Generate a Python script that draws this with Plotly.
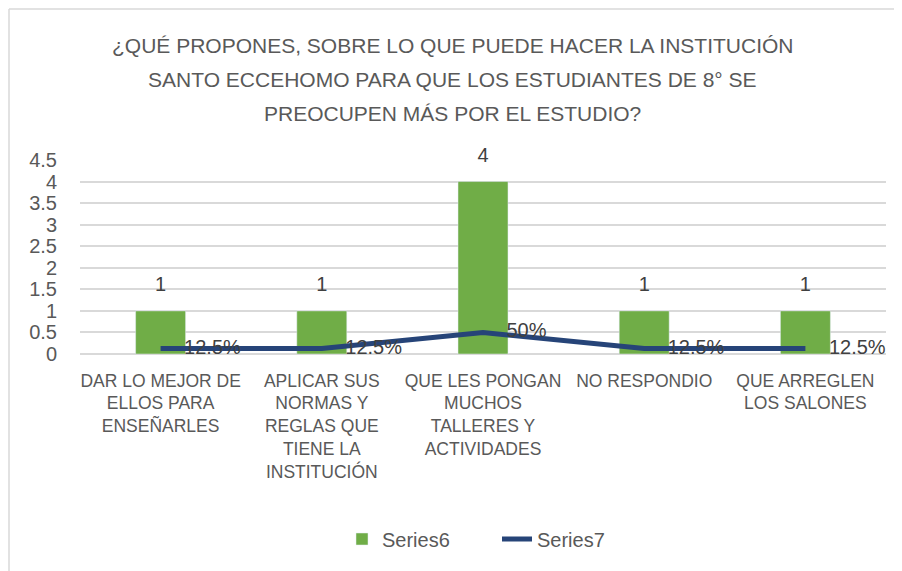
import plotly.graph_objects as go

categories = [
    "DAR LO MEJOR DE<br>ELLOS PARA<br>ENSEÑARLES",
    "APLICAR SUS<br>NORMAS Y<br>REGLAS QUE<br>TIENE LA<br>INSTITUCIÓN",
    "QUE LES PONGAN<br>MUCHOS<br>TALLERES Y<br>ACTIVIDADES",
    "NO RESPONDIO",
    "QUE ARREGLEN<br>LOS SALONES",
]
series6 = [1, 1, 4, 1, 1]
series7 = [0.125, 0.125, 0.5, 0.125, 0.125]
series7_labels = ["12.5%", "12.5%", "50%", "12.5%", "12.5%"]
y_ticks = [0, 0.5, 1, 1.5, 2, 2.5, 3, 3.5, 4, 4.5]
title_lines = [
    "¿QUÉ PROPONES, SOBRE LO QUE PUEDE HACER LA INSTITUCIÓN",
    "SANTO ECCEHOMO PARA QUE LOS ESTUDIANTES DE 8° SE",
    "PREOCUPEN MÁS POR EL ESTUDIO?",
]

OFF = 8  # default body margin of the page
W, H = 902 - OFF, 571 - OFF
L, R, T, B = 80 - OFF, 16, 160 - OFF, 217
pw, ph = W - L - R, H - T - B

def px_x(sx):
    return (sx - OFF - L) / pw

def px_y(sy):
    return (H - B - (sy - OFF)) / ph

txt = "#595959"
lbl = "#404040"
font_main = "Liberation Sans"

fig = go.Figure()
fig.add_trace(go.Bar(
    x=categories, y=series6, name="Series6",
    marker=dict(color="#70AD47"), width=0.31,
))
fig.add_trace(go.Scatter(
    x=categories, y=series7, name="Series7", mode="lines",
    line=dict(color="#264478", width=5),
))
# data labels for bars
fig.add_trace(go.Scatter(
    x=categories, y=series6, mode="markers+text", text=[str(v) for v in series6],
    textposition="top center", marker=dict(size=22, opacity=0),
    textfont=dict(size=20, color=lbl, family=font_main),
    showlegend=False, hoverinfo="skip", cliponaxis=False,
))
# data labels for line
fig.add_trace(go.Scatter(
    x=categories, y=series7, mode="markers+text", text=series7_labels,
    textposition="middle right", marker=dict(size=36, opacity=0),
    textfont=dict(size=20, color=lbl, family=font_main),
    showlegend=False, hoverinfo="skip", cliponaxis=False,
))

annotations = []
for i, line in enumerate(title_lines):
    annotations.append(dict(
        text=line, xref="paper", yref="paper",
        x=px_x(452), y=px_y([45, 80, 113][i]),
        xanchor="center", yanchor="middle", showarrow=False,
        font=dict(family=font_main, size=21, color=txt),
    ))

fig.update_layout(
    width=W, height=H,
    margin=dict(l=L, r=R, t=T, b=B),
    paper_bgcolor="white", plot_bgcolor="white",
    font=dict(family=font_main, color=txt, size=15),
    showlegend=True,
    legend=dict(orientation="h", x=px_x(342), y=px_y(539), xanchor="left",
                yanchor="middle", font=dict(size=20, color=txt),
                traceorder="normal", entrywidth=110),
    annotations=annotations,
    shapes=[
        dict(type="line", xref="paper", yref="paper",
             x0=px_x(9), x1=px_x(905), y0=px_y(9), y1=px_y(9),
             line=dict(color="#D9D9D9", width=1.5)),
        dict(type="line", xref="paper", yref="paper",
             x0=px_x(9), x1=px_x(9), y0=px_y(9), y1=px_y(575),
             line=dict(color="#D9D9D9", width=1.5)),
    ],
)
fig.update_xaxes(showgrid=False, showline=False, zeroline=False,
                 tickfont=dict(size=17.5, color=txt), ticks="",
                 ticklabelstandoff=14)
fig.update_yaxes(range=[0, 4.5], tickvals=y_ticks,
                 ticktext=[f"{v:g}" for v in y_ticks],
                 showgrid=True, gridcolor="#D9D9D9", gridwidth=1.5,
                 zeroline=True, zerolinecolor="#D9D9D9", zerolinewidth=1.5,
                 showline=False, tickfont=dict(size=20, color=txt), ticks="",
                 ticklabelstandoff=22)

fig.write_html("out.html")
